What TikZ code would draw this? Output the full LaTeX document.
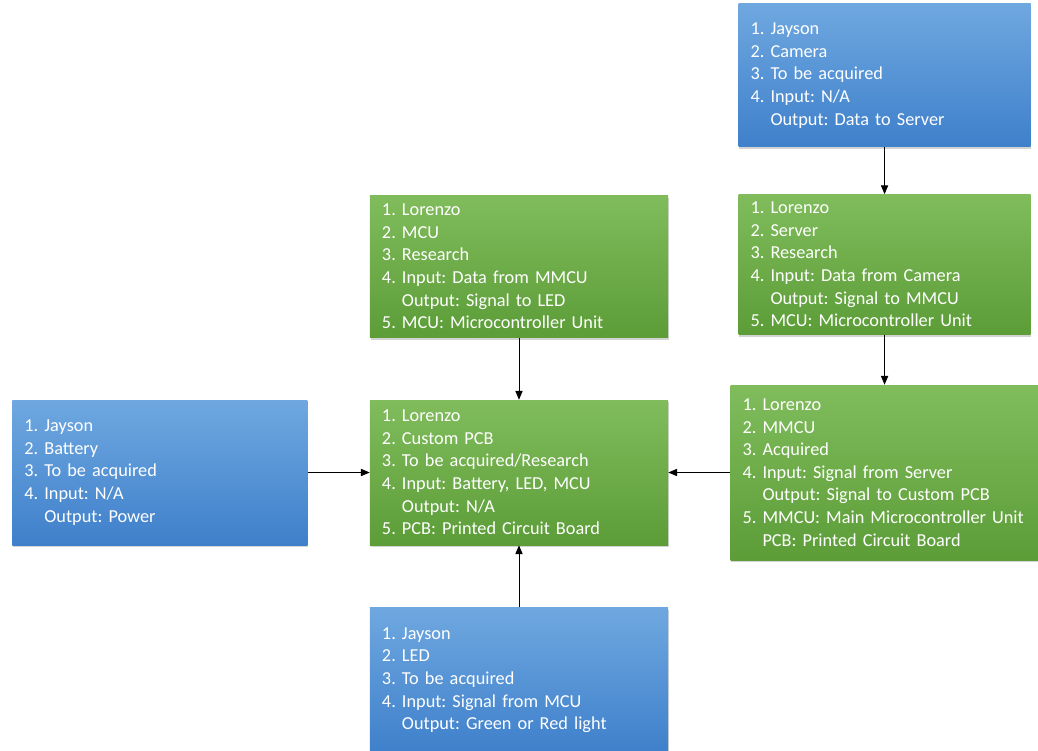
\documentclass[tikz,border=0pt]{standalone}
\usepackage{fontspec}
\setmainfont{Carlito}
\usetikzlibrary{arrows.meta,positioning,shadows}
\definecolor{bleuhaut}{HTML}{6FA8E0}
\definecolor{bleubas}{HTML}{3F80CB}
\definecolor{verthaut}{HTML}{80BC5C}
\definecolor{vertbas}{HTML}{5C9D38}
\newcommand{\retrait}{\hphantom{4.\ }}
\tikzset{
  bloc/.style={rectangle,text=white,align=left,inner xsep=0.3cm,inner ysep=0pt,
               font=\fontsize{13}{16.1}\selectfont\frenchspacing,
               drop shadow={shadow xshift=0.6pt,shadow yshift=-1.6pt,opacity=0.35}},
  blocbleu/.style={bloc,top color=bleuhaut,bottom color=bleubas},
  blocvert/.style={bloc,top color=verthaut,bottom color=vertbas},
  lien/.style={-{Triangle[length=2.2mm,width=1.8mm]},line width=0.6pt,black},
}
\begin{document}
\begin{tikzpicture}[node distance=1.55cm]
  \useasboundingbox (-12.975,-6.9375) rectangle (12.975,11.8125);
  \node[blocvert,text width=6.85cm,minimum height=3.625cm] (pcb) {1. Lorenzo\\2. Custom PCB\\3. To be acquired/Research\\4. Input: Battery, LED, MCU\\\retrait Output: N/A\\5. PCB: Printed Circuit Board};
  \node[blocvert,text width=6.85cm,minimum height=3.55cm,above=of pcb] (mcu) {1. Lorenzo\\2. MCU\\3. Research\\4. Input: Data from MMCU\\\retrait Output: Signal to LED\\5. MCU: Microcontroller Unit};
  \node[blocbleu,text width=6.85cm,minimum height=3.625cm,below=of pcb] (led) {1. Jayson\\2. LED\\3. To be acquired\\4. Input: Signal from MCU\\\retrait Output: Green or Red light};
  \node[blocbleu,text width=6.775cm,minimum height=3.625cm,left=of pcb] (bat) {1. Jayson\\2. Battery\\3. To be acquired\\4. Input: N/A\\\retrait Output: Power};
  \node[blocvert,text width=7.1cm,minimum height=4.375cm,right=of pcb] (mmcu) {1. Lorenzo\\2. MMCU\\3. Acquired\\4. Input: Signal from Server\\\retrait Output: Signal to Custom PCB\\5. MMCU: Main Microcontroller Unit\\\retrait PCB: Printed Circuit Board};
  \node[blocvert,text width=6.7cm,minimum height=3.5cm,above=1.25cm of mmcu] (server) {1. Lorenzo\\2. Server\\3. Research\\4. Input: Data from Camera\\\retrait Output: Signal to MMCU\\5. MCU: Microcontroller Unit};
  \node[blocbleu,text width=6.7cm,minimum height=3.575cm,above=1.175cm of server] (cam) {1. Jayson\\2. Camera\\3. To be acquired\\4. Input: N/A\\\retrait Output: Data to Server};
  \foreach \u/\v in {cam/server,server/mmcu,mcu/pcb,led/pcb,bat/pcb,mmcu/pcb} \draw[lien] (\u) -- (\v);
\end{tikzpicture}
\end{document}
